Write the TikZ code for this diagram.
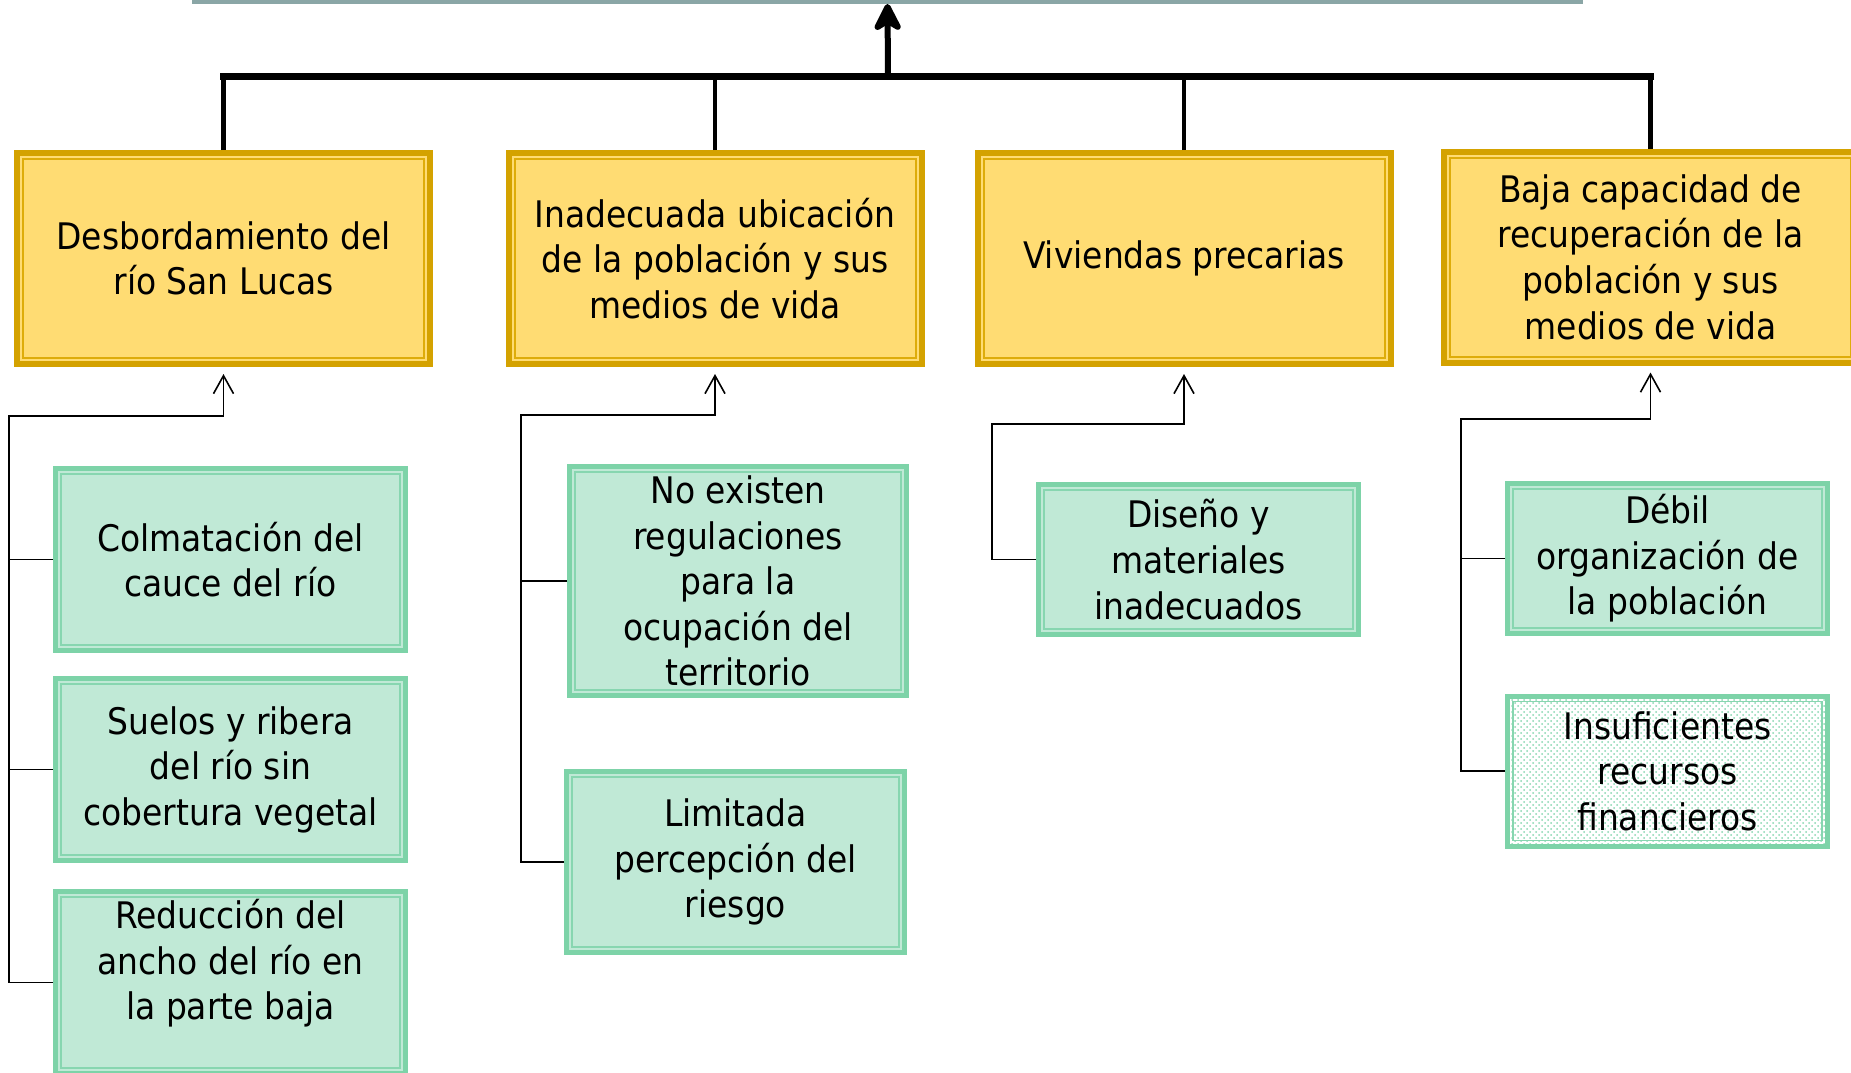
\documentclass[tikz,border=0pt]{standalone}
\usepackage{fontspec}
\setmainfont{DejaVu Sans}[FakeStretch=0.9]
\usepackage{xcolor}
\usepackage{tikz}
\usetikzlibrary{arrows.meta, calc, patterns}
\definecolor{Gold}{RGB}{212,162,0}
\definecolor{GoldIn}{RGB}{222,172,10}
\definecolor{Yellow}{RGB}{255,220,115}
\definecolor{Mint}{RGB}{125,211,168}
\definecolor{MintIn}{RGB}{135,214,176}
\definecolor{MintFill}{RGB}{192,233,214}
\definecolor{MintPale}{RGB}{232,246,239}
\definecolor{Slate}{RGB}{138,166,166}

\tikzset{
  txt/.style={align=center, font=\fontsize{18.3pt}{22.8pt}\selectfont},
  cause/.style={txt, draw=Gold, line width=3pt, fill=Yellow, inner sep=0pt,
    minimum width=206.5pt, minimum height=105.5pt},
  sub/.style={txt, draw=Mint, line width=2.5pt, fill=MintFill, inner sep=0pt},
  subwide/.style={sub, minimum width=175pt, minimum height=91pt},
  subnarrow/.style={sub, minimum width=160pt, minimum height=75pt},
  link/.style={line width=0.8pt},
  tip/.style={-{Straight Barb[length=9pt,width=10pt]}, shorten >=3.5pt},
}

\begin{document}
\begin{tikzpicture}[x=0.5pt, y=-0.5pt]
  \useasboundingbox (0,0) rectangle (1851,1072);

  \node[fill=Slate, inner sep=0pt, minimum width=695.5pt, minimum height=20pt, anchor=south] (top) at (887.5,4) {};

  \node[cause] (c1) at (223.5,258.5) {Desbordamiento del\\río San Lucas};
  \node[cause] (c2) at (715,258.5) {Inadecuada ubicación\\de la población y sus\\medios de vida};
  \node[cause] (c3) at (1184,258.5) {Viviendas precarias};
  \node[cause] (c4) at (1650.5,257) {Baja capacidad de\\recuperación de la\\población y sus\\medios de vida};

  \foreach \n in {c1,c2,c3,c4}
    \draw[GoldIn, line width=1pt] ($(\n.south west)+(9,-9)$) rectangle ($(\n.north east)+(-9,9)$);

  \node[subwide] (s1) at (230.5,559.5) {Colmatación del\\cauce del río};
  \node[subwide] (s2) at (230.5,769.5) {Suelos y ribera\\del río sin\\cobertura vegetal};
  \node[subwide] (s3) at (230.5,982.5) {Reducción del\\ancho del río en\\la parte baja\\\mbox{}};

  \node[sub, minimum width=168.5pt, minimum height=114.5pt] (s4) at (738,581) {No existen\\regulaciones\\para la\\ocupación del\\territorio};
  \node[sub, minimum width=169pt, minimum height=90.5pt] (s5) at (735.5,862) {Limitada\\percepción del\\riesgo};

  \node[subnarrow] (s6) at (1198.5,559.5) {Diseño y\\materiales\\inadecuados};

  \node[subnarrow] (s7) at (1667.5,558.5) {Débil\\organización de\\la población};
  \node[subnarrow, fill=MintPale, pattern=crosshatch dots, pattern color=MintIn] (s8) at (1667.5,771) {Insuficientes\\recursos\\financieros};

  \foreach \n in {s1,s2,s3,s4,s5,s6,s7,s8}
    \draw[MintIn, line width=0.8pt] ($(\n.south west)+(8,-8)$) rectangle ($(\n.north east)+(-8,8)$);

  \coordinate (hub) at (888,76);
  \foreach \n in {c1,c2,c3,c4}
    \draw[line width=2.4pt] (\n.north) -- (\n.north |- hub);
  \draw[line width=3.5pt, line cap=rect] (c1.north |- hub) -- (c4.north |- hub);
  \draw[line width=3pt, -{Stealth[length=17pt,width=17pt,inset=5pt,round]}] (hub) -- (top.south);

  \coordinate (t1) at (9,416);
  \coordinate (t2) at (521,415);
  \coordinate (t3) at (992,424);
  \coordinate (t4) at (1461,419);

  \draw[link, tip] (s3.west) -| (t1) -| (c1.south);
  \draw[link] (s1.west) -- (s1.west -| t1);
  \draw[link] (s2.west) -- (s2.west -| t1);

  \draw[link, tip] (s5.west) -| (t2) -| (c2.south);
  \draw[link] (s4.west) -- (s4.west -| t2);

  \draw[link, tip] (s6.west) -| (t3) -| (c3.south);

  \draw[link, tip] (s8.west) -| (t4) -| (c4.south);
  \draw[link] (s7.west) -- (s7.west -| t4);
\end{tikzpicture}
\end{document}
